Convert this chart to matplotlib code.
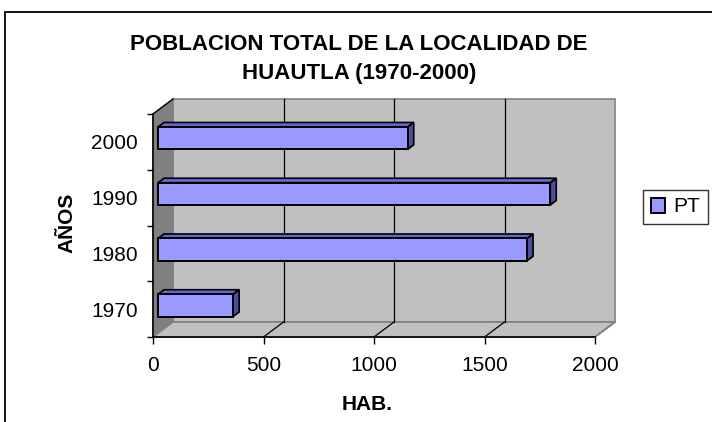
#!/usr/bin/env python3
"""Poblacion total de Huautla (1970-2000), pseudo 3D horizontal bars."""

import matplotlib
matplotlib.use("Agg")
import matplotlib.pyplot as plt
from matplotlib.patches import Polygon, Rectangle

years = ["1970", "1980", "1990", "2000"]
pt = [340, 1670, 1775, 1130]
xticks = [0, 500, 1000, 1500, 2000]

W, H = 712, 422
FRONT = "#9999FF"
TOP = "#6666CC"
SIDE = "#4D4D99"
WALL = "#C0C0C0"
DARK = "#808080"

plt.rcParams["font.family"] = ["Liberation Sans", "DejaVu Sans"]

fig = plt.figure(figsize=(W / 100, H / 100), dpi=100)
ax = fig.add_axes([153 / W, 85 / H, 442 / W, 223 / H])
ax.set_xlim(0, 2000)
ax.set_ylim(-0.5, len(years) - 0.5)
ax.patch.set_visible(False)

# depth offset of the 3D box in data units (20 px right, 15 px up)
DX = 20 * 2000 / 442
DY = 15 * len(years) / 223
y0, y1 = -0.5, len(years) - 0.5
xmax = 2000

# back wall, side wall, floor
ax.add_patch(Polygon([(DX, y0 + DY), (xmax + DX, y0 + DY), (xmax + DX, y1 + DY), (DX, y1 + DY)],
                     closed=True, fc=WALL, ec=DARK, lw=1.2, zorder=1, clip_on=False))
ax.add_patch(Polygon([(0, y0), (DX, y0 + DY), (DX, y1 + DY), (0, y1)],
                     closed=True, fc=DARK, ec=DARK, lw=0.8, zorder=1, clip_on=False))
ax.add_patch(Polygon([(0, y0), (xmax, y0), (xmax + DX, y0 + DY), (DX, y0 + DY)],
                     closed=True, fc=WALL, ec=DARK, lw=1.2, zorder=1, clip_on=False))
for v in xticks[1:-1]:
    ax.plot([v + DX, v + DX], [y0 + DY, y1 + DY], color="black", lw=0.9, zorder=2, clip_on=False)
    ax.plot([v, v + DX], [y0, y0 + DY], color="black", lw=0.9, zorder=2, clip_on=False)

# bars: front face at depth 0.25, thickness 0.3 of the box depth
d0, dd, hh = 0.25, 0.3, 0.2
for i, v in enumerate(pt):
    bx, by = d0 * DX, i + d0 * DY
    ox, oy = dd * DX, dd * DY
    front = Rectangle((bx, by - hh), v, 2 * hh, fc=FRONT, ec="black", lw=1.4, zorder=5,
                      clip_on=False, label="PT" if i == 0 else None)
    top = Polygon([(bx, by + hh), (bx + v, by + hh), (bx + v + ox, by + hh + oy), (bx + ox, by + hh + oy)],
                  closed=True, fc=TOP, ec="black", lw=1.2, zorder=4, clip_on=False)
    side = Polygon([(bx + v, by - hh), (bx + v + ox, by - hh + oy), (bx + v + ox, by + hh + oy), (bx + v, by + hh)],
                   closed=True, fc=SIDE, ec="black", lw=1.2, zorder=4, clip_on=False)
    ax.add_patch(top)
    ax.add_patch(side)
    ax.add_patch(front)

# axes
for s in ["top", "right"]:
    ax.spines[s].set_visible(False)
for s in ["left", "bottom"]:
    ax.spines[s].set_linewidth(1.2)
    ax.spines[s].set_zorder(6)
ax.plot([0, DX], [y1, y1 + DY], color="black", lw=1.0, zorder=6, clip_on=False)
ax.plot([xmax, xmax + DX], [y0, y0 + DY], color=DARK, lw=1.2, zorder=2, clip_on=False)

ax.set_xticks(xticks)
ax.set_xticklabels([str(t) for t in xticks], fontsize=15)
ax.tick_params(axis="x", direction="out", length=5, width=1, pad=9)
ax.set_yticks([y0 + k for k in range(len(years) + 1)])
ax.set_yticklabels([])
ax.tick_params(axis="y", direction="out", length=4.5, width=1)
ax.set_yticks(range(len(years)), minor=True)
ax.set_yticklabels(years, minor=True, fontsize=15)
ax.tick_params(axis="y", which="minor", length=0, pad=11)

fig.text(367 / W, 1 - 404 / H, "HAB.", ha="center", va="center", fontsize=15, fontweight="bold")
fig.text(67 / W, 1 - 223 / H, "AÑOS", ha="center", va="center", rotation=90, fontsize=15, fontweight="bold")

fig.text(359 / W, 1 - 45 / H, "POBLACION TOTAL DE LA LOCALIDAD DE", ha="center", va="center",
         fontsize=16, fontweight="bold")
fig.text(359 / W, 1 - 73 / H, "HUAUTLA (1970-2000)", ha="center", va="center",
         fontsize=16, fontweight="bold")

leg = fig.legend(handles=[ax.patches[-1]], labels=["PT"], loc="center",
                 bbox_to_anchor=(675.5 / W, 1 - 207 / H), fontsize=15, frameon=True,
                 fancybox=False, handlelength=0.7, handleheight=0.7, handletextpad=0.4,
                 borderpad=0.35, borderaxespad=0)
leg.get_frame().set_edgecolor("black")
leg.get_frame().set_linewidth(1.0)

# chart area border (cropped at right and bottom)
fig.patches.append(Rectangle((5 / W, -0.1), 1.2, 1 - 12 / H + 0.1, transform=fig.transFigure,
                             fill=False, ec="black", lw=1.3))

fig.savefig("out.png", dpi=100)
